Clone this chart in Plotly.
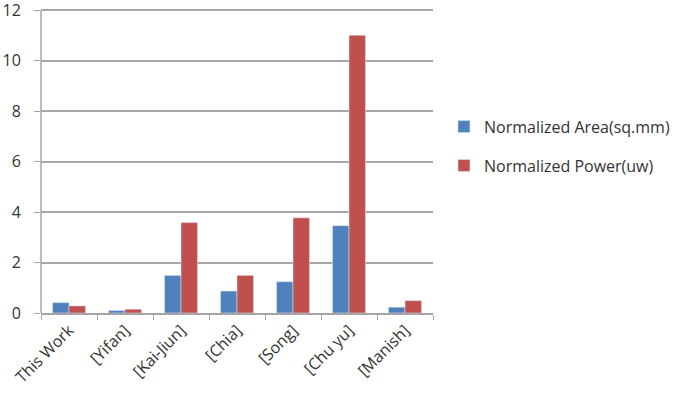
import plotly.graph_objects as go

categories = ["This Work", "[Yifan]", "[Kai-Jiun]", "[Chia]", "[Song]", "[Chu yu]", "[Manish]"]
area_values = [0.41, 0.10, 1.49, 0.87, 1.24, 3.46, 0.23]
power_values = [0.28, 0.15, 3.58, 1.49, 3.77, 11.0, 0.49]
series_names = ["Normalized Area(sq.mm)", "Normalized Power(uw)"]
y_ticks = [0, 2, 4, 6, 8, 10, 12]

fig = go.Figure()
fig.add_trace(go.Bar(x=categories, y=area_values, name=series_names[0],
                     marker_color="#4F81BD", legendgroup="a"))
fig.add_trace(go.Bar(x=categories, y=power_values, name=series_names[1],
                     marker_color="#C0504D", legendgroup="b"))

fig.update_layout(
    width=685, height=403,
    margin=dict(l=41, r=252, t=5, b=90, autoexpand=False),
    paper_bgcolor="white", plot_bgcolor="white",
    barmode="group", bargap=0.41, bargroupgap=0,
    font=dict(family="Open Sans", size=16, color="#333"),
    legend=dict(x=1.028, y=0.66, xanchor="left", yanchor="top",
                font=dict(size=16, color="#333"), tracegroupgap=15),
    showlegend=True,
)
fig.update_xaxes(
    tickangle=-45, tickson="boundaries", ticks="outside", ticklen=5,
    tickcolor="#A6A6A6", showline=True, linecolor="#A6A6A6", linewidth=1.5,
    tickfont=dict(size=16, color="#333"), automargin=False,
)
fig.update_yaxes(
    range=[0, 12.2], tickvals=y_ticks, showgrid=True,
    gridcolor="#A6A6A6", gridwidth=1.5,
    showline=False, ticks="outside", ticklen=6,
    tickcolor="#A6A6A6", zeroline=False, tickfont=dict(size=16, color="#333"),
    ticklabelstandoff=10, ticklabeloverflow="allow", automargin=False,
)
# vertical axis line from 0 to 12 only
fig.add_shape(type="line", xref="paper", yref="y", x0=0, x1=0, y0=0, y1=y_ticks[-1],
              line=dict(color="#A6A6A6", width=1.5))

fig.write_html("out.html", config={"displayModeBar": False},
               post_script="document.body.style.margin='0';")
